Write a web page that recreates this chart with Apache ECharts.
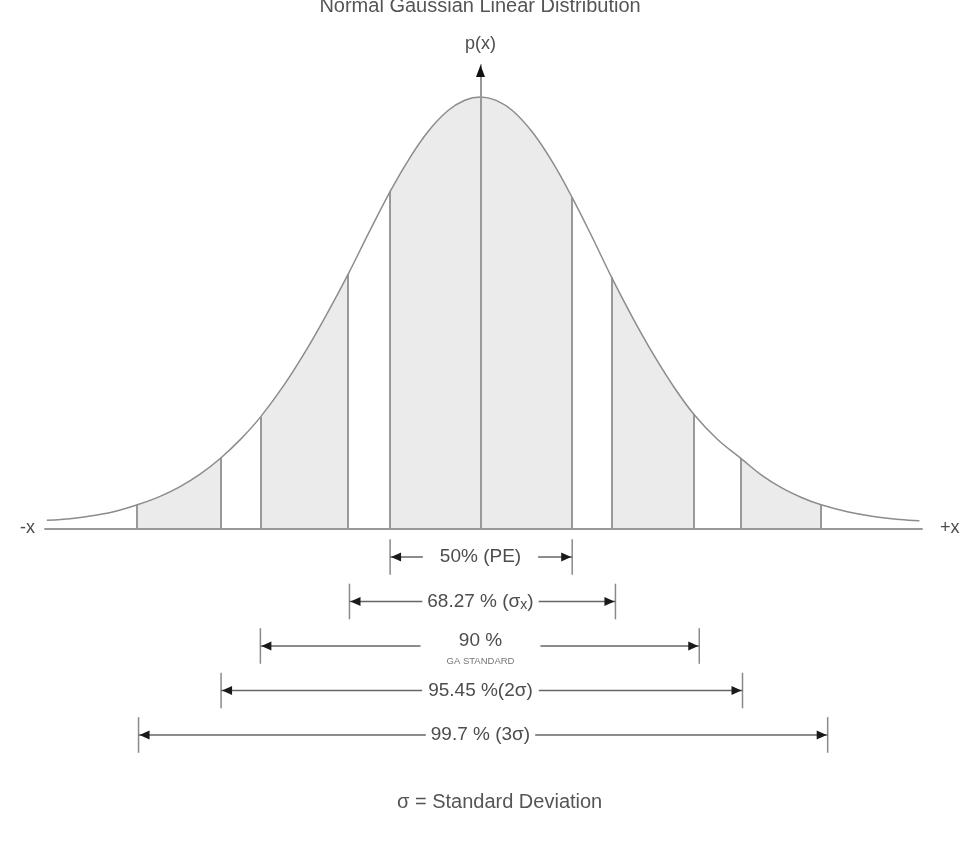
<!DOCTYPE html>
<html><head><meta charset="utf-8">
<script src="https://cdn.jsdelivr.net/npm/echarts/dist/echarts.min.js"></script>
<style>html,body{margin:0;padding:0;background:#fff}#c{width:960px;height:841px}</style>
</head><body><div id="c"></div>
<script>
// ---- data (x in sigma units, y relative to peak) ----
const TITLE = 'Normal Gaussian Linear Distribution';
const Y_NAME = 'p(x)';
const X_END_LABELS = ['-x', '+x'];
const X_MIN = -3.324, X_MAX = 3.37;
const Y_MAX = 1.074;
const curveX = [-3.31, -3.20, -3.00, -2.80, -2.62, -2.45, -2.30, -2.14, -1.98, -1.83, -1.68, -1.50, -1.33, -1.17, -1.01, -0.85, -0.69, -0.55, -0.40, -0.25, -0.12, 0,
                0.12, 0.25, 0.40, 0.55, 0.70, 0.85, 1.00, 1.16, 1.32, 1.48, 1.63, 1.81, 1.99, 2.14, 2.30, 2.45, 2.60, 2.80, 3.00, 3.20, 3.35];
const curveY = [0.020, 0.022, 0.029, 0.040, 0.056, 0.075, 0.097, 0.127, 0.165, 0.208, 0.259, 0.333, 0.414, 0.499, 0.590, 0.687, 0.781, 0.854, 0.920, 0.968, 0.9925, 1.0,
                0.992, 0.967, 0.917, 0.849, 0.767, 0.677, 0.583, 0.490, 0.404, 0.327, 0.265, 0.207, 0.163, 0.126, 0.095, 0.073, 0.056, 0.040, 0.029, 0.022, 0.019];
const boundaries = [-2.62, -1.98, -1.68, -1.01, -0.69, 0, 0.70, 1.00, 1.63, 1.99, 2.60];
const shadedBands = [[-2.62, -1.98], [-1.68, -1.01], [-0.69, 0.70], [1.00, 1.63], [1.99, 2.60]];
const rangeLabels = ['50% (PE)', '68.27 % (σ{sub|x})', '90 %\n{ga|GA STANDARD}', '95.45 %(2σ)', '99.7 % (3σ)'];
const rangeLeft = [-0.69, -1.00, -1.68, -1.98, -2.61];
const rangeRight = [0.70, 1.03, 1.67, 2.00, 2.65];
const FOOTNOTE = 'σ = Standard Deviation';

// ---- styles ----
const FONT = 'Liberation Sans, Arial, Helvetica, sans-serif';
const TEXT_COLOR = '#4d4d4d';
const LINE_GRAY = '#999';
const SHADE = '#ebebeb';
const LABEL_PAD = [17, 5, 26, 6, 5];
const LABEL_DY = [0, 0, 4, 0, 0];
const SMOOTH = 0.4;

const curveData = curveX.map((x, i) => [x, curveY[i]]);
const yAt = x => curveY[curveX.indexOf(x)];

const chart = echarts.init(document.getElementById('c'), null, {renderer: 'canvas'});

function renderRow(params, api) {
  const i = params.dataIndex;
  const row = api.value(2);
  const L = api.coord([api.value(0), row]);
  const R = api.coord([api.value(1), row]);
  const C = api.coord([0, row]);
  const tTop = api.coord([0, row - 0.4])[1];
  const tBot = api.coord([0, row + 0.4])[1];
  const y = L[1];
  return {
    type: 'group',
    children: [
      {type: 'line', shape: {x1: L[0], y1: tTop, x2: L[0], y2: tBot}, style: {stroke: '#8a8a8a', lineWidth: 1.5}},
      {type: 'line', shape: {x1: R[0], y1: tTop, x2: R[0], y2: tBot}, style: {stroke: '#8a8a8a', lineWidth: 1.5}},
      {type: 'line', shape: {x1: L[0], y1: y, x2: R[0], y2: y}, style: {stroke: '#666', lineWidth: 1.3}},
      {type: 'polygon', shape: {points: [[L[0] + 1, y], [L[0] + 11, y - 4.5], [L[0] + 11, y + 4.5]]}, style: {fill: '#1a1a1a'}},
      {type: 'polygon', shape: {points: [[R[0] - 1, y], [R[0] - 11, y - 4.5], [R[0] - 11, y + 4.5]]}, style: {fill: '#1a1a1a'}},
      {type: 'text', x: C[0], y: y + LABEL_DY[i], style: {
        text: rangeLabels[i], align: 'center', verticalAlign: 'middle',
        fill: TEXT_COLOR, fontSize: 19, fontFamily: FONT, lineHeight: 22,
        backgroundColor: '#fff', padding: [0, LABEL_PAD[i]],
        rich: {
          sub: {fontSize: 14, fontFamily: FONT, fill: TEXT_COLOR, lineHeight: 22, verticalAlign: 'bottom'},
          ga: {fontSize: 9.5, fontFamily: FONT, fill: '#777', lineHeight: 18}
        }
      }}
    ]
  };
}

function renderEnds(params, api) {
  const p = api.coord([api.value(0), api.value(1)]);
  const left = params.dataIndex === 0;
  return {type: 'text', x: left ? p[0] - 10 : p[0] + 18, y: p[1] - 1, style: {
    text: X_END_LABELS[params.dataIndex], align: left ? 'right' : 'left', verticalAlign: 'middle',
    fill: TEXT_COLOR, fontSize: 18, fontFamily: FONT
  }};
}

function renderArrow(params, api) {
  const p = api.coord([api.value(0), api.value(1)]);
  return {type: 'polygon', shape: {points: [[p[0], p[1]], [p[0] - 4.5, p[1] + 12], [p[0] + 4.5, p[1] + 12]]}, style: {fill: '#111'}};
}

chart.setOption({
  animation: false,
  backgroundColor: '#fff',
  title: [
    {text: TITLE, left: 'center', top: -4, padding: 0, textStyle: {fontSize: 20, fontWeight: 'normal', color: '#555', fontFamily: FONT}},
    {text: FOOTNOTE, left: 397, top: 792, padding: 0, textStyle: {fontSize: 20, fontWeight: 'normal', color: '#555', fontFamily: FONT}}
  ],
  grid: [
    {left: 45, right: 38, top: 65, bottom: 312},
    {left: 45, right: 38, top: 512.5, height: 267}
  ],
  xAxis: [
    {type: 'value', gridIndex: 0, min: X_MIN, max: X_MAX, z: 5,
     axisLine: {show: true, lineStyle: {color: LINE_GRAY, width: 2}},
     axisTick: {show: false}, axisLabel: {show: false}, splitLine: {show: false}},
    {type: 'value', gridIndex: 1, min: X_MIN, max: X_MAX, show: false}
  ],
  yAxis: [
    {type: 'value', gridIndex: 0, min: 0, max: Y_MAX, z: 5,
     name: Y_NAME, nameLocation: 'end', nameGap: 12,
     nameTextStyle: {fontSize: 18, color: TEXT_COLOR, fontFamily: FONT},
     axisLine: {show: true, onZero: true, lineStyle: {color: LINE_GRAY, width: 2}},
     axisTick: {show: false}, axisLabel: {show: false}, splitLine: {show: false}},
    {type: 'value', gridIndex: 1, min: 0, max: 6, inverse: true, show: false}
  ],
  visualMap: {
    type: 'piecewise', show: false, dimension: 0, seriesIndex: 0,
    pieces: shadedBands.map(b => ({gte: b[0], lte: b[1], color: SHADE})),
    outOfRange: {color: '#ffffff'}
  },
  series: [
    {type: 'line', name: 'shade', data: curveData, smooth: SMOOTH, symbol: 'none', z: 1,
     lineStyle: {width: 0}, areaStyle: {opacity: 1}, silent: true},
    {type: 'lines', coordinateSystem: 'cartesian2d', z: 3, silent: true,
     data: boundaries.map(x => ({coords: [[x, 0], [x, yAt(x)]]})),
     lineStyle: {color: LINE_GRAY, width: 2, opacity: 1}},
    {type: 'line', name: 'curve', data: curveData, smooth: SMOOTH, symbol: 'none', z: 4,
     lineStyle: {color: '#8c8c8c', width: 1.5}, silent: true},
    {type: 'custom', xAxisIndex: 0, yAxisIndex: 0, renderItem: renderEnds, z: 6, silent: true,
     data: [[X_MIN, 0], [X_MAX, 0]]},
    {type: 'custom', xAxisIndex: 0, yAxisIndex: 0, renderItem: renderArrow, z: 6, silent: true,
     data: [[0, Y_MAX]]},
    {type: 'custom', xAxisIndex: 1, yAxisIndex: 1, renderItem: renderRow, z: 6, silent: true,
     encode: {x: [0, 1], y: 2},
     data: rangeLeft.map((l, i) => [l, rangeRight[i], i + 1])}
  ]
});
</script>
</body></html>
